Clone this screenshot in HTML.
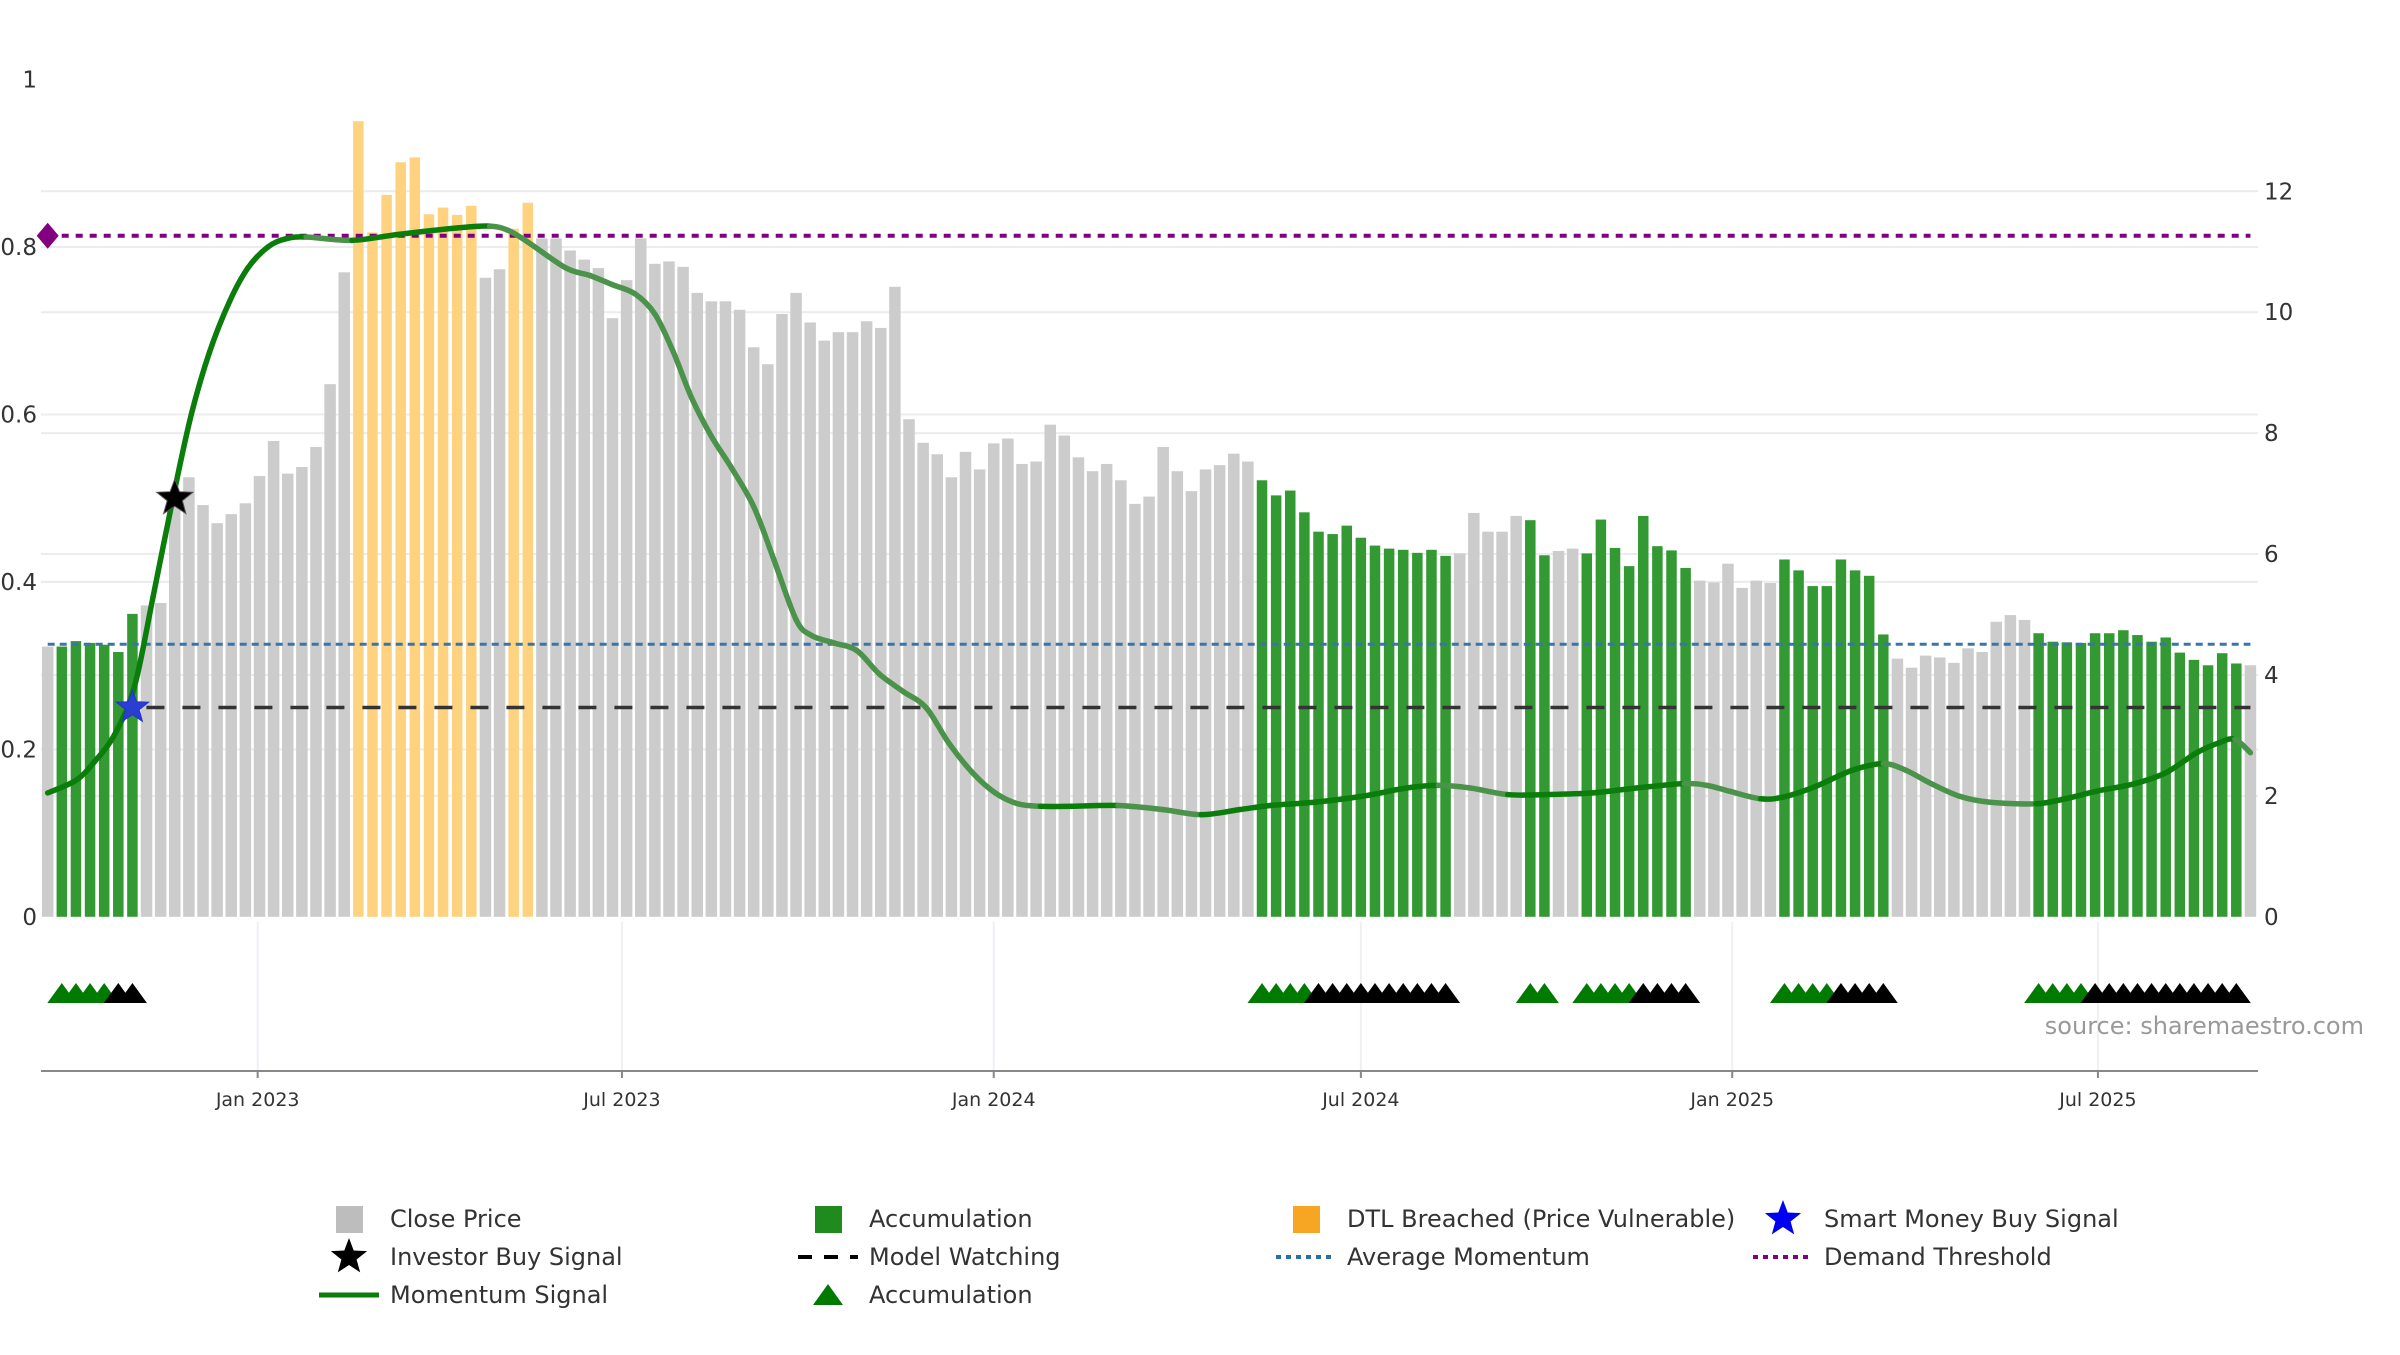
<!DOCTYPE html>
<html>
<head>
<meta charset="utf-8">
<style>
  html,body{margin:0;padding:0;background:#fff;}
  body{width:2400px;height:1350px;overflow:hidden;font-family:"Liberation Sans","DejaVu Sans",sans-serif;}
  svg text{font-family:"DejaVu Sans","Liberation Sans",sans-serif;}
</style>
</head>
<body>
<svg id="chart" width="2400" height="1350" viewBox="0 0 2400 1350" xmlns="http://www.w3.org/2000/svg">
  <rect x="0" y="0" width="2400" height="1350" fill="#ffffff"/>
  <g id="grid"></g>
  <g id="bars"></g>
  <g id="refs"></g>
  <g id="mom"></g>
  <g id="marks"></g>
  <g id="axes"></g>
  <text x="2364" y="1034" text-anchor="end" font-size="24" fill="#999">source: sharemaestro.com</text>
  <g id="legend"></g>
</svg>
<script>
// ---------- DATA ----------
const closePrice = [
 4.47,4.47,4.56,4.53,4.50,4.38,5.01,5.15,5.19,6.93,
 7.27,6.81,6.51,6.66,6.84,7.29,7.87,7.33,7.44,7.77,
 8.81,10.66,13.16,11.32,11.94,12.48,12.56,11.62,11.73,11.61,
 11.76,10.57,10.71,11.38,11.81,11.22,11.22,11.02,10.87,10.73,
 9.90,10.53,11.22,10.80,10.84,10.75,10.32,10.18,10.18,10.04,
 9.42,9.14,9.97,10.32,9.83,9.53,9.67,9.67,9.85,9.74,
 10.42,8.23,7.84,7.65,7.27,7.69,7.40,7.83,7.91,7.49,
 7.53,8.14,7.96,7.60,7.37,7.49,7.22,6.83,6.95,7.77,
 7.37,7.04,7.40,7.47,7.66,7.53,7.22,6.97,7.05,6.69,
 6.37,6.33,6.47,6.27,6.14,6.09,6.07,6.02,6.07,5.97,
 6.01,6.68,6.37,6.37,6.63,6.56,5.98,6.05,6.09,6.01,
 6.57,6.10,5.80,6.63,6.13,6.06,5.77,5.56,5.53,5.84,
 5.44,5.56,5.52,5.91,5.73,5.47,5.47,5.91,5.73,5.64,
 4.67,4.27,4.12,4.32,4.29,4.20,4.44,4.38,4.88,4.99,
 4.91,4.69,4.55,4.54,4.53,4.69,4.69,4.74,4.66,4.55,
 4.62,4.37,4.25,4.16,4.36,4.19,4.16
];
// g = close price, a = accumulation, o = DTL breached
const barType = ("g" + "aaaaaa" + "ggggggggggggggg" + "ooooooooo" + "gg" + "oo" +
 "ggggggggggggggggggggggggggggggggggggggggggggggggggg" +
 "aaaaaaaaaaaaaa" + "ggggg" + "aa" + "gg" + "aaaaaaaa" + "gggggg" + "aaaaaaaa" +
 "gggggggggg" + "aaaaaaaaaaaaaaa" + "g").split('');
const accMarkerGreen = [1,2,3,4,86,87,88,89,105,106,109,110,111,112,123,124,125,126,141,142,143,144];
const accMarkerBlack = [5,6,90,91,92,93,94,95,96,97,98,99,113,114,115,116,127,128,129,130,145,146,147,148,149,150,151,152,153,154,155];
const momentumWeek = [0,2.0,3.3,4.75,6.16,7.46,8.87,10.17,11.47,12.88,14.18,15.59,16.89,18.3,21.55,24.8,29.14,31.3,32.6,34.0,36.7,38.4,40.0,41.6,43.0,44.3,45.6,47.0,48.4,50.0,51.4,53.0,54.1,55.7,57.3,58.9,60.6,62.2,63.8,65.5,67.1,68.7,70.3,72.5,75.8,79.0,81.7,84.4,86.6,89.8,93.1,96.3,98.5,100.7,103.4,106.1,109.4,112.6,115.9,117.5,119.1,121.3,122.9,125.1,127.8,130.0,131.6,133.4,135.4,137.5,140.8,142.9,145.1,147.8,150.0,152.2,153.8,154.9,156.0];
const momentumValue = [0.148,0.163,0.185,0.218,0.276,0.382,0.50,0.60,0.675,0.735,0.775,0.80,0.81,0.812,0.808,0.815,0.823,0.825,0.82,0.806,0.775,0.766,0.755,0.744,0.72,0.675,0.62,0.574,0.537,0.49,0.428,0.355,0.336,0.327,0.318,0.29,0.269,0.25,0.208,0.172,0.148,0.135,0.132,0.132,0.133,0.128,0.122,0.128,0.133,0.137,0.144,0.154,0.157,0.154,0.146,0.146,0.148,0.154,0.159,0.157,0.15,0.141,0.143,0.155,0.175,0.183,0.175,0.159,0.144,0.137,0.135,0.141,0.15,0.159,0.172,0.196,0.208,0.212,0.196];
const demandThreshold = 0.8135;
const averageMomentum = 0.3255;
const modelWatching = 0.25;
const investorBuyWeek = 9, investorBuyValue = 0.50;
const smartMoneyWeek = 6, smartMoneyValue = 0.25;
const leftTicks = [0,0.2,0.4,0.6,0.8,1];
const leftTickLabels = ["0","0.2","0.4","0.6","0.8","1"];
const rightTicks = [0,2,4,6,8,10,12];
const xTickWeeks = [14.87,40.67,67.0,93.0,119.3,145.2];
const xTickLabels = ["Jan 2023","Jul 2023","Jan 2024","Jul 2024","Jan 2025","Jul 2025"];

// ---------- SCALES ----------
const NS = "http://www.w3.org/2000/svg";
const xS = i => 47.7 + i * 14.12;
const yL = v => 916.8 - v * 837.2;
const yR = p => 916.8 - p * 60.46;
const PL = 41, PR = 2258;
function mk(tag, attrs, parent){const e=document.createElementNS(NS,tag);for(const k in attrs)e.setAttribute(k,attrs[k]);parent.appendChild(e);return e;}

// ---------- GRID ----------
const grid = document.getElementById('grid');
leftTicks.forEach(v => { if (v===0||v===1) return;
  const l = mk('line',{x1:PL,x2:PR,y1:yL(v),y2:yL(v),stroke:'#ececf0','stroke-width':2},grid);
  
  
});
rightTicks.forEach(v => { if (v===0) return;
  const l = mk('line',{x1:PL,x2:PR,y1:yR(v),y2:yR(v),stroke:'#ececf0','stroke-width':2},grid);
  
  
});
xTickWeeks.forEach(w => {
  const l = mk('line',{x1:xS(w),x2:xS(w),y1:922,y2:1071,stroke:'#eef0f4','stroke-width':2},grid);
  
  
});

// ---------- BARS ----------
const barsG = document.getElementById('bars');
const barColor = {g:'#cccccc', a:'#339933', o:'#ffd27f'};
closePrice.forEach((p,i) => {
  const w = barType[i]==='g' ? 11.5 : 10.5;
  const r = mk('rect',{x:xS(i)-w/2,y:yR(p),width:w,height:yR(0)-yR(p),fill:barColor[barType[i]]},barsG);
  
  
});

// ---------- REFERENCE LINES ----------
const refs = document.getElementById('refs');
let l1 = mk('line',{x1:xS(0),x2:xS(156),y1:yL(averageMomentum),y2:yL(averageMomentum),stroke:'#3a74a8','stroke-width':3,'stroke-dasharray':'7 5'},refs);


let l2 = mk('line',{x1:xS(smartMoneyWeek)+14,x2:xS(156),y1:yL(modelWatching),y2:yL(modelWatching),stroke:'#333','stroke-width':3.5,'stroke-dasharray':'18 18'},refs);


let l3 = mk('line',{x1:xS(0),x2:xS(156),y1:yL(demandThreshold),y2:yL(demandThreshold),stroke:'#800080','stroke-width':4,'stroke-dasharray':'7 7'},refs);


const dy = yL(demandThreshold), dx = xS(0);
let dm = mk('polygon',{points:`${dx},${dy-13} ${dx+11},${dy} ${dx},${dy+13} ${dx-11},${dy}`,fill:'#800080'},refs);



// ---------- MOMENTUM LINE ----------
const momG = document.getElementById('mom');
const pts = momentumWeek.map((w,k)=>[xS(w), yL(momentumValue[k])]);
for (let k=0;k<pts.length-1;k++){
  const p0=pts[Math.max(0,k-1)], p1=pts[k], p2=pts[k+1], p3=pts[Math.min(pts.length-1,k+2)];
  const c1=[p1[0]+(p2[0]-p0[0])/6, p1[1]+(p2[1]-p0[1])/6];
  const c2=[p2[0]-(p3[0]-p1[0])/6, p2[1]-(p3[1]-p1[1])/6];
  const rising = momentumValue[k+1] >= momentumValue[k];
  const s = mk('path',{d:`M${p1[0]},${p1[1]} C${c1[0]},${c1[1]} ${c2[0]},${c2[1]} ${p2[0]},${p2[1]}`,fill:'none',stroke:rising?'#0a7d0a':'#4b934b','stroke-width':5.5,'stroke-linecap':'round'},momG);
  
  
}

// ---------- MARKERS ----------
const marks = document.getElementById('marks');
function star(cx,cy,R,fill,name){
  let d='';
  for(let k=0;k<10;k++){const r=k%2?R*0.42:R;const a=-Math.PI/2+k*Math.PI/5;d+=(k?'L':'M')+(cx+r*Math.cos(a)).toFixed(1)+','+(cy+r*Math.sin(a)).toFixed(1);}
  const s = mk('path',{d:d+'Z',fill:fill,stroke:fill==='#000'?'#555':'#2233cc','stroke-width':1},marks);
  
  
}
star(xS(smartMoneyWeek), yL(smartMoneyValue), 17, '#2a3fd0', 'smart-money-buy-star');
star(xS(investorBuyWeek), yL(investorBuyValue), 19, '#000', 'investor-buy-star');
const triWeeks = accMarkerGreen.map(w=>[w,'#007a00']).concat(accMarkerBlack.map(w=>[w,'#000'])).sort((a,b)=>a[0]-b[0]);
triWeeks.forEach(([w,c]) => {
  const x = xS(w);
  const t = mk('polygon',{points:`${x},983 ${x+14.5},1003 ${x-14.5},1003`,fill:c},marks);
  
  
});

// ---------- AXES ----------
const axes = document.getElementById('axes');
let ax = mk('line',{x1:PL,x2:PR,y1:1071,y2:1071,stroke:'#888','stroke-width':2},axes);


leftTicks.forEach((v,k) => {
  const t = mk('text',{x:37,y:yL(v)+8,'text-anchor':'end','font-size':23,fill:'#333'},axes);
  t.textContent = leftTickLabels[k];
  
  
});
rightTicks.forEach(v => {
  const t = mk('text',{x:2264,y:yR(v)+8,'font-size':23,fill:'#333'},axes);
  t.textContent = String(v);
  
  
});
xTickWeeks.forEach((w,k) => {
  const tk = mk('line',{x1:xS(w),x2:xS(w),y1:1071,y2:1078,stroke:'#888','stroke-width':2},axes);
  
  
  const t = mk('text',{x:xS(w),y:1106,'text-anchor':'middle','font-size':19,fill:'#333'},axes);
  t.textContent = xTickLabels[k];
  
  
});

// ---------- LEGEND ----------
const lg = document.getElementById('legend');
const colX = [349, 828, 1306, 1783];
const rowY = [1219, 1257, 1295];
function legText(c,r,txt){
  const t = mk('text',{x:colX[c]+41,y:rowY[r]+8,'font-size':24,fill:'#333'},lg);
  t.textContent = txt;
  
  
}
function legSq(c,r,fill,name){
  const s = mk('rect',{x:colX[c]-13,y:rowY[r]-13,width:27,height:27,fill:fill},lg);
  
  
}
function legLine(c,r,stroke,dash,w,name){
  const s = mk('line',{x1:colX[c]-30,x2:colX[c]+30,y1:rowY[r],y2:rowY[r],stroke:stroke,'stroke-width':w,'stroke-dasharray':dash},lg);
  
  
}
function legStar(c,r,fill,name){
  const cx=colX[c], cy=rowY[r]; let d='';
  for(let k=0;k<10;k++){const rr=k%2?8:19;const a=-Math.PI/2+k*Math.PI/5;d+=(k?'L':'M')+(cx+rr*Math.cos(a)).toFixed(1)+','+(cy+rr*Math.sin(a)).toFixed(1);}
  const s = mk('path',{d:d+'Z',fill:fill},lg);
  
  
}
legSq(0,0,'#bdbdbd','legend-close-price-swatch'); legText(0,0,'Close Price');
legSq(1,0,'#1f8b1f','legend-accumulation-swatch'); legText(1,0,'Accumulation');
legSq(2,0,'#f6a623','legend-dtl-swatch'); legText(2,0,'DTL Breached (Price Vulnerable)');
legStar(3,0,'#0000ee','legend-smart-money-star'); legText(3,0,'Smart Money Buy Signal');
legStar(0,1,'#000','legend-investor-star'); legText(0,1,'Investor Buy Signal');
legLine(1,1,'#000','14 12',4,'legend-model-watching-line'); legText(1,1,'Model Watching');
legLine(2,1,'#2d6fa3','5 5',4,'legend-average-momentum-line'); legText(2,1,'Average Momentum');
legLine(3,1,'#800080','5 5',4,'legend-demand-threshold-line'); legText(3,1,'Demand Threshold');
legLine(0,2,'#0a7d0a','',5,'legend-momentum-line'); legText(0,2,'Momentum Signal');
const lt = mk('polygon',{points:`${colX[1]},${rowY[2]-11} ${colX[1]+15},${rowY[2]+10} ${colX[1]-15},${rowY[2]+10}`,fill:'#007a00'},lg);


legText(1,2,'Accumulation');
</script>
</body>
</html>
